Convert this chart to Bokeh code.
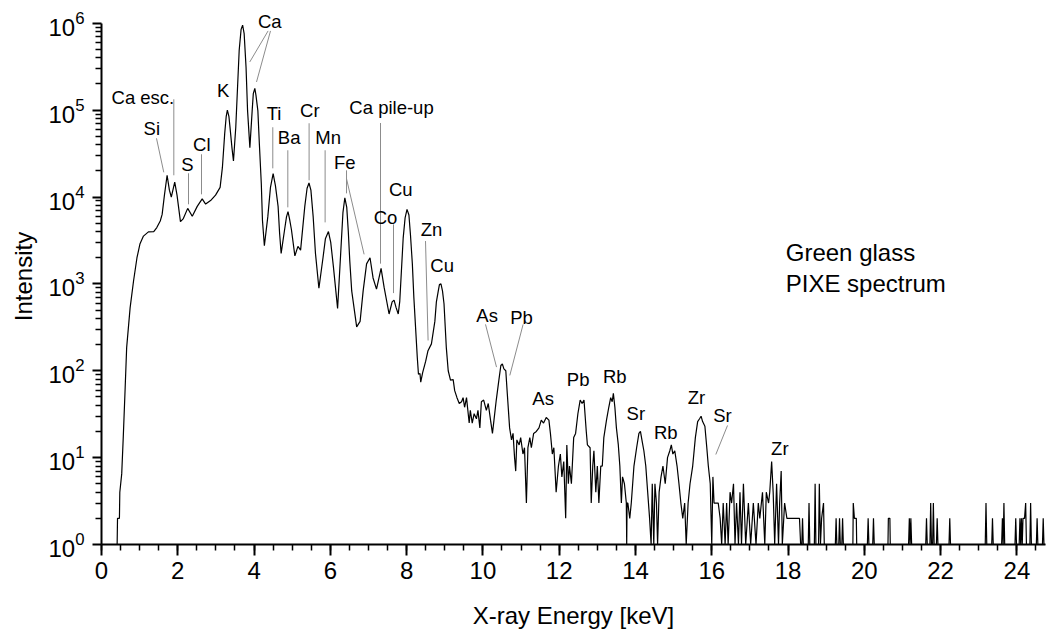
from bokeh.plotting import figure
from bokeh.models import Range1d, FixedTicker, SingleIntervalTicker, Label
from bokeh.embed import file_html
from bokeh.resources import INLINE

FONT = "Liberation Sans"

# ---- spectrum (X-ray energy in keV, intensity in counts) ----
energy_keV = [
    0.41, 0.42, 0.47, 0.48, 0.53, 0.57, 0.62, 0.66, 0.75, 0.84, 0.93, 1.01, 1.10, 1.23, 1.37, 1.45,
    1.54, 1.59, 1.65, 1.72, 1.78, 1.83, 1.92, 1.98, 2.07, 2.14, 2.26, 2.38, 2.51, 2.64, 2.73, 2.86,
    2.99, 3.11, 3.17, 3.23, 3.27, 3.30, 3.34, 3.37, 3.42, 3.46, 3.52, 3.61, 3.66, 3.70, 3.74, 3.79,
    3.83, 3.89, 3.95, 3.98, 4.02, 4.05, 4.10, 4.14, 4.19, 4.22, 4.27, 4.36, 4.43, 4.50, 4.56, 4.63,
    4.67, 4.71, 4.80, 4.85, 4.89, 4.93, 4.98, 5.07, 5.15, 5.22, 5.33, 5.39, 5.44, 5.49, 5.55, 5.61,
    5.70, 5.81, 5.87, 5.95, 6.01, 6.08, 6.19, 6.27, 6.33, 6.38, 6.43, 6.47, 6.51, 6.56, 6.69, 6.78,
    6.86, 6.95, 7.04, 7.12, 7.21, 7.33, 7.41, 7.54, 7.62, 7.67, 7.72, 7.78, 7.82, 7.91, 7.96, 8.01,
    8.06, 8.10, 8.15, 8.19, 8.28, 8.31, 8.35, 8.37, 8.42, 8.50, 8.56, 8.65, 8.74, 8.78, 8.83, 8.86,
    8.90, 8.94, 8.98, 9.04, 9.09, 9.15, 9.22, 9.26, 9.32, 9.38, 9.44, 9.48, 9.52,
    9.57, 9.64, 9.67, 9.72, 9.77, 9.83, 9.87, 9.92, 9.96, 10.02, 10.09, 10.14, 10.20, 10.25, 10.29,
    10.35, 10.42, 10.47, 10.51, 10.55, 10.60, 10.64, 10.70, 10.75, 10.79, 10.83, 10.86, 10.89, 10.95,
    10.99, 11.05, 11.09, 11.14, 11.18, 11.23, 11.27, 11.33, 11.40, 11.47, 11.53, 11.59, 11.66, 11.73,
    11.77, 11.82, 11.86, 11.92, 11.98, 12.03, 12.07, 12.12, 12.17, 12.20, 12.24, 12.27, 12.32, 12.38,
    12.43, 12.49, 12.55, 12.60, 12.65, 12.71, 12.74, 12.81, 12.84, 12.88, 12.91, 12.96, 13.00, 13.04,
    13.09, 13.13, 13.17, 13.24, 13.30, 13.35, 13.39, 13.42, 13.46, 13.50, 13.55, 13.59, 13.63, 13.66,
    13.71, 13.76, 13.77, 13.78, 13.80, 13.85, 13.89, 13.96, 14.03, 14.09, 14.13, 14.18, 14.22, 14.27,
    14.32, 14.37, 14.41, 14.44, 14.48, 14.51, 14.55, 14.58, 14.62, 14.67, 14.72, 14.78, 14.84, 14.90,
    14.94, 14.98, 15.03, 15.09, 15.14, 15.19, 15.24, 15.29, 15.33, 15.38, 15.43, 15.50, 15.57, 15.63,
    15.68, 15.72, 15.76, 15.82, 15.87, 15.91, 15.96, 16.00, 16.03, 16.06, 16.11, 16.17, 16.22, 16.26,
    16.30, 16.35, 16.39, 16.43, 16.48, 16.52, 16.57, 16.61, 16.65, 16.70, 16.74, 16.78, 16.83, 16.89,
    16.96, 17.02, 17.09, 17.16, 17.22, 17.26, 17.33, 17.39, 17.43, 17.49, 17.52, 17.57, 17.61, 17.65,
    17.70, 17.75, 17.78, 17.82, 17.85, 17.91, 17.97, 18.30, 18.33, 18.36, 18.38, 18.40, 18.53, 18.55,
    18.57, 18.69, 18.71, 18.73, 18.80, 18.82, 18.85, 18.88, 18.93, 18.95, 19.24, 19.26, 19.28, 19.33,
    19.35, 19.37, 19.41, 19.43, 19.45, 19.70, 19.71, 19.74, 19.79, 19.80, 20.08, 20.10, 20.12, 20.22,
    20.24, 20.26, 20.62, 20.63, 20.67, 20.68, 21.16, 21.18, 21.20, 21.22, 21.24, 21.61, 21.63, 21.65,
    21.72, 21.74, 21.76, 21.79, 21.81, 21.83, 21.89, 21.91, 21.93, 22.22, 22.24, 22.26, 23.17, 23.19,
    23.21, 23.34, 23.36, 23.38, 23.60, 23.62, 23.64, 23.66, 23.68, 23.95, 23.97, 23.99, 24.06, 24.08,
    24.10, 24.12, 24.14, 24.16, 24.20, 24.23, 24.25, 24.34, 24.36, 24.38, 24.51, 24.53, 24.55, 24.67,
    24.69, 24.71, 24.75,
]
counts = [
    1, 2, 2, 4, 6.5, 17, 63, 186, 530, 1080, 2000, 2900, 3550, 3970, 4000, 4450,
    5300, 6300, 10500, 17800, 12000, 10000, 14800, 10500, 5200, 5600, 7400, 6000, 7800, 9500, 8300, 9100,
    10500, 12900, 21900, 53700, 85000, 100000, 85000, 63000, 37000, 26000, 63000, 490000, 850000, 950000, 760000, 309000,
    98000, 37000, 98000, 155000, 178000, 148000, 98000, 40000, 14100, 5400, 2750, 5900, 12900, 18600, 13500, 7800,
    3800, 2240, 4200, 5900, 6800, 5600, 4200, 2100, 2700, 2450, 7800, 12600, 14500, 12000, 5900, 2240,
    890, 2040, 3300, 4000, 3000, 1580, 520, 2200, 6600, 9800, 7600, 4070, 1820, 830, 320, 370,
    830, 1700, 2000, 1170, 870, 1510, 910, 450, 620, 650, 540, 450, 630, 3390, 5750, 7200,
    6200, 3700, 1700, 690, 141, 91, 93, 74, 95, 129, 170, 204, 370, 620, 830, 980,
    1000, 830, 590, 186, 100, 78, 79, 59, 49, 42, 44, 49, 38,
    49, 25, 35, 25, 32, 28, 35, 22, 44, 46, 35, 42, 27, 19, 27,
    46, 79, 115, 120, 105, 100, 54, 22, 16, 19, 10, 7, 16, 14,
    17, 11, 13, 3, 13, 17, 13, 19, 20, 22, 27, 25, 29, 27,
    19, 11, 13, 4, 8, 11, 6, 9, 2, 14, 5, 8, 5, 17,
    19, 32, 46, 42, 46, 20, 14, 13, 3, 8, 12, 4, 8, 3,
    8, 8, 17, 27, 38, 49, 44, 55, 38, 22, 14, 8, 3, 6,
    5, 3, 1, 3, 3, 2, 3, 8, 13, 19, 20, 15, 12, 8,
    4, 2, 1, 5, 1, 5, 3, 1, 4, 6, 8, 5, 10, 12,
    14, 11, 12, 8, 5, 3, 2, 3, 1, 3, 5, 8, 17, 26,
    28, 30, 26, 23, 13, 8, 5, 1, 6, 3, 3, 3, 2, 1,
    3, 1, 3, 1, 4, 3, 5, 1, 3, 1, 4, 1, 5, 1,
    3, 1, 3, 1, 3, 2, 4, 1, 4, 3, 4, 9, 4, 1,
    5, 1, 3, 7, 1, 3, 2, 2, 1, 1, 2, 1, 1, 3,
    1, 1, 5, 1, 1, 5, 1, 2, 3, 1, 1, 2, 1, 1,
    2, 1, 1, 2, 1, 1, 3, 2, 2, 1, 1, 2, 1, 1,
    2, 1, 1, 2, 2, 1, 1, 2, 1, 2, 1, 1, 2, 1,
    1, 3, 1, 1, 3, 1, 1, 2, 1, 1, 2, 1, 1, 3,
    1, 1, 2, 1, 1, 2, 1, 3, 1, 1, 2, 1, 1, 2,
    1, 2, 1, 2, 2, 3, 1, 1, 3, 1, 1, 2, 1, 1,
    2, 1, 1,
]

# ---- peak annotations ----
peak_labels = ["Ca esc.", "Si", "S", "Cl", "K", "Ca", "Ti", "Ba", "Cr", "Mn", "Fe", "Ca pile-up",
               "Cu", "Co", "Zn", "Cu", "As", "Pb", "As", "Pb", "Rb", "Sr", "Rb", "Zr", "Sr", "Zr"]
label_keV = [1.085, 1.319, 2.255, 2.630, 3.188, 4.413, 4.525, 4.919, 5.461, 5.941, 6.379, 7.604,
             7.847, 7.446, 8.652, 8.930, 10.110, 11.012, 11.578, 12.496, 13.458, 14.009, 14.795,
             15.600, 16.282, 17.784]
label_counts = [10**5.148, 10**4.791, 10**4.376, 10**4.607, 10**5.221, 10**6.015, 10**4.964,
                10**4.687, 10**4.998, 10**4.687, 10**4.399, 10**5.029, 10**4.085, 10**3.763,
                10**3.624, 10**3.213, 10**2.637, 10**2.618, 10**1.678, 10**1.897, 10**1.935,
                10**1.512, 10**1.293, 10**1.696, 10**1.486, 10**1.102]

# leader lines (from label towards peak)
leader_keV0 = [1.896, 1.442, 2.281, 2.622, 4.368, 4.431, 4.491, 4.885, 5.443, 5.863, 6.424, 6.424,
               7.315, 7.656, 8.495, 10.068, 11.054, 16.413]
leader_cts0 = [10**5.125, 10**4.676, 10**4.273, 10**4.492, 10**5.912, 10**5.912, 10**4.803,
               10**4.538, 10**4.849, 10**4.538, 10**4.307, 10**4.210, 10**4.852, 10**3.685,
               10**3.493, 10**2.534, 10**2.534, 10**1.370]
leader_keV1 = [1.896, 1.633, 2.281, 2.622, 3.888, 4.064, 4.491, 4.885, 5.443, 5.863, 6.424, 6.885,
               7.315, 7.656, 8.563, 10.357, 10.705, 16.106]
leader_cts1 = [10**4.250, 10**4.284, 10**3.916, 10**4.031, 10**5.555, 10**5.324, 10**4.330,
               10**3.881, 10**4.192, 10**3.708, 10**4.042, 10**3.340, 10**3.233, 10**2.894,
               10**2.349, 10**2.042, 10**1.946, 10**1.036]

note_lines = ["Green glass", "PIXE spectrum"]
note_keV = [17.94, 17.94]
note_counts = [10**3.363, 10**3.006]

y_ticks = [1, 10, 100, 1000, 10000, 100000, 1000000]

# frame reaches a little above 10^6 so that the top "Ca" label is not clipped;
# the axis itself stops at 10^6 (bounds)
p = figure(width=1051, height=635, x_range=Range1d(0, 24.75), y_range=Range1d(1, 10**6.17),
           y_axis_type="log", output_backend="svg", toolbar_location=None,
           min_border_left=101, min_border_right=6, min_border_top=8, min_border_bottom=91,
           background_fill_color="white", border_fill_color="white")
p.outline_line_color = None
p.grid.visible = False

p.line(energy_keV, counts, line_color="black", line_width=1.2)

p.segment(x0=leader_keV0, y0=leader_cts0, x1=leader_keV1, y1=leader_cts1,
          line_color="#8c8c8c", line_width=1)

for t, xk, yc in zip(peak_labels, label_keV, label_counts):
    p.add_layout(Label(x=xk, y=yc, text=t, text_font=FONT, text_font_size="18.5px",
                       text_align="center", text_baseline="middle", text_color="black"))

for t, xk, yc in zip(note_lines, note_keV, note_counts):
    p.add_layout(Label(x=xk, y=yc, text=t, text_font=FONT, text_font_size="24px",
                       text_align="left", text_baseline="middle", text_color="black"))

xa = p.xaxis[0]
xa.ticker = SingleIntervalTicker(interval=2, num_minor_ticks=4)
xa.axis_label = "X-ray Energy [keV]"
ya = p.yaxis[0]
ya.ticker = FixedTicker(ticks=y_ticks,
                        minor_ticks=[m * 10**k for k in range(6) for m in range(2, 10)])
ya.axis_label = "Intensity"
ya.bounds = (1, 1e6)

for ax in (xa, ya):
    ax.axis_line_width = 2
    ax.axis_line_color = "black"
    ax.major_tick_line_width = 2
    ax.minor_tick_line_width = 1.5
    ax.major_tick_in = 0
    ax.minor_tick_in = 0
    ax.major_label_text_font = FONT
    ax.major_label_text_font_size = "24px"
    ax.major_label_text_color = "black"
    ax.axis_label_text_font = FONT
    ax.axis_label_text_font_size = "24px"
    ax.axis_label_text_font_style = "normal"
    ax.axis_label_text_color = "black"

xa.major_tick_out = 11
xa.minor_tick_out = 6
xa.major_label_standoff = 6
xa.axis_label_standoff = 20
ya.major_tick_out = 9
ya.minor_tick_out = 6
ya.major_label_standoff = 8
ya.axis_label_standoff = 8

open("out.html", "w").write(file_html(p, INLINE))
